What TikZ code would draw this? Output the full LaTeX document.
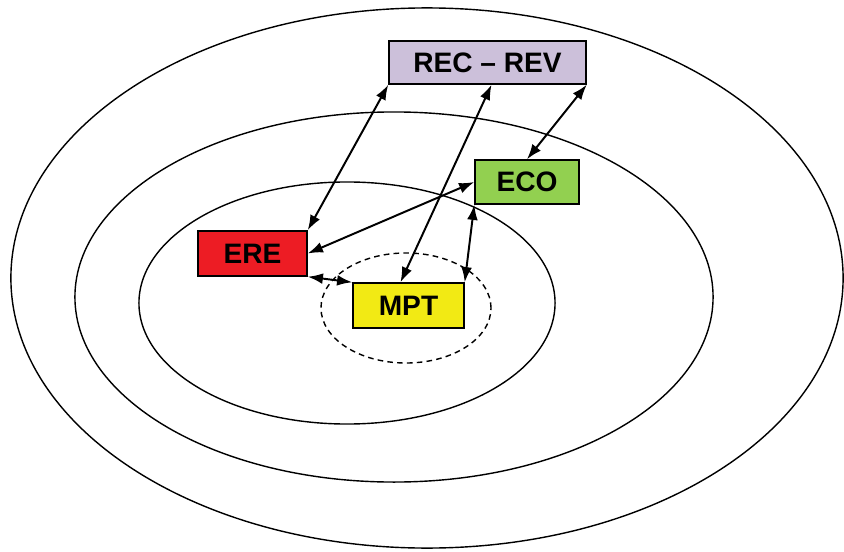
\documentclass[tikz,border=0pt]{standalone}
\usepackage{fontspec}
\setmainfont{Liberation Sans}
\usetikzlibrary{arrows.meta,positioning}
\definecolor{recfill}{RGB}{204,192,218}
\definecolor{ecofill}{RGB}{146,208,80}
\definecolor{erefill}{RGB}{237,28,36}
\definecolor{mptfill}{RGB}{242,234,20}
\tikzset{
    box/.style={rectangle, draw=black, line width=1pt, font=\bfseries\fontsize{20}{24}\selectfont, inner sep=0pt},
    recbox/.style={box, fill=recfill, minimum width=4.925cm, minimum height=1.075cm},
    ecobox/.style={box, fill=ecofill, minimum width=2.6cm, minimum height=1.1cm},
    erebox/.style={box, fill=erefill, minimum width=2.725cm, minimum height=1.125cm},
    mptbox/.style={box, fill=mptfill, minimum width=2.775cm, minimum height=1.125cm},
    ring/.style={line width=1pt},
    link/.style={{Latex[length=0.38cm,width=0.27cm]}-{Latex[length=0.38cm,width=0.27cm]}, line width=1.4pt}
}

\begin{document}
\begin{tikzpicture}[x=0.025cm, y=-0.025cm]
\useasboundingbox (0,0) rectangle (844,552);

% rings
\draw[ring] (427,278) ellipse [x radius=10.4cm, y radius=6.75cm];
\draw[ring] (394,297) ellipse [x radius=7.975cm, y radius=4.625cm];
\draw[ring] (347,303) ellipse [x radius=5.2cm, y radius=3.025cm];
\draw[ring, dash pattern=on 4pt off 3pt] (406,308) ellipse [x radius=2.125cm, y radius=1.375cm];

% boxes
\node[recbox] (rec) at (487.5,62.5) {REC – REV};
\node[ecobox] (eco) at (527,182) {ECO};
\node[erebox] (ere) at (252.5,253.5) {ERE};
\node[mptbox] (mpt) at (408.5,305.5) {MPT};

% links
\draw[link] (rec.south west) -- (ere.north east);
\draw[link] ([xshift=0.1cm]rec.south) -- ([xshift=-0.2cm]mpt.north);
\draw[link] (rec.south east) -- (eco.north);
\draw[link] (eco.west) -- (ere.east);
\draw[link] (ere.south east) -- (mpt.north west);
\draw[link] (eco.south west) -- (mpt.north east);

\end{tikzpicture}
\end{document}
